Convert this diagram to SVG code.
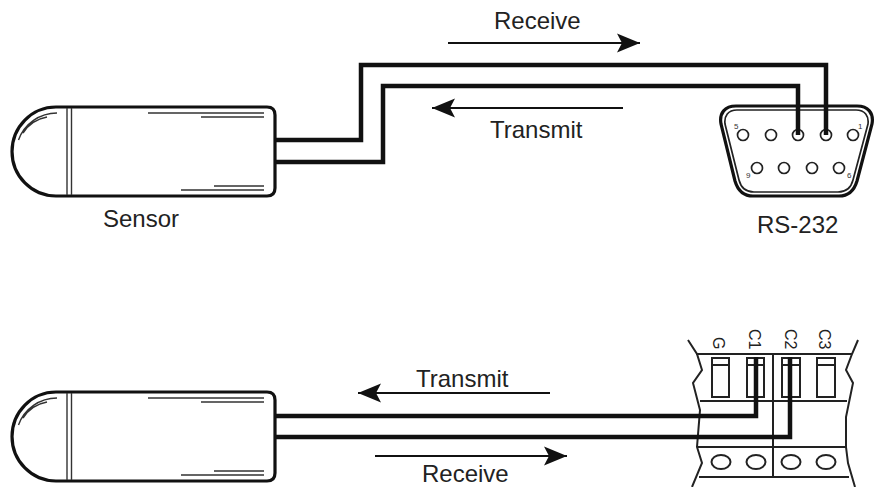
<svg xmlns="http://www.w3.org/2000/svg" width="874" height="487" viewBox="0 0 874 487">
<defs>
<marker id="ah" markerUnits="userSpaceOnUse" markerWidth="24" markerHeight="20" refX="23" refY="10" orient="auto"><path d="M0 0.5L23 10L0 19.500L5 10Z" fill="#111"/></marker>
<g id="sensor">
<path class="o" d="M56 107H267Q275 107 275 115V188Q275 196 267 196H56A44 44.500 0 0 1 56 107Z"/>
<path class="t" d="M67 108V195M71.500 108V195M148 113H264M201 117H264M214 186H264M181 190H264"/>
<path class="t" d="M57 113A41 41 0 0 0 18.500 140M47 117A36 36 0 0 0 23 133"/>
</g>
</defs>
<style>
text{font-family:"Liberation Sans",Arial,sans-serif;fill:#222}
.o{fill:none;stroke:#111;stroke-width:3.200}
.t{fill:none;stroke:#333;stroke-width:1.400}
.w{fill:none;stroke:#111;stroke-width:4.500}
.l{fill:none;stroke:#222;stroke-width:1.700}
.m{fill:none;stroke:#222;stroke-width:2}
.a{fill:none;stroke:#111;stroke-width:2;marker-end:url(#ah)}
.p{font-size:8px;fill:#333}
.lab{font-size:24px}
.c{font-size:16px}
</style>
<g id="sensor-top"><use href="#sensor"/></g>
<g id="sensor-bottom"><use href="#sensor" y="285"/></g>
<g id="rs232">
<path class="o" d="M736 106H857C868 106 874 113 872 124L857 181C854 191 848 196 839 196H753C744 196 738 191 735 181L721 124C719 113 725 106 736 106Z"/>
<path class="l" d="M737 110H856C865 110 869 116 868 124L853 180C851 188 846 192 838 192H754C746 192 741 188 739 180L725 124C724 116 728 110 737 110Z"/>
<g class="l"><circle cx="743" cy="135" r="5.500"/><circle cx="771" cy="135" r="5.500"/><circle cx="798" cy="135" r="5.500"/><circle cx="826" cy="135" r="5.500"/><circle cx="853" cy="135" r="5.500"/><circle cx="757" cy="168" r="5.500"/><circle cx="784" cy="168" r="5.500"/><circle cx="812" cy="168" r="5.500"/><circle cx="839" cy="168" r="5.500"/></g>
<text class="p" x="734" y="129">5</text><text class="p" x="858" y="129">1</text><text class="p" x="746" y="178">9</text><text class="p" x="847" y="178">6</text>
</g>
<g id="terminal">
<path class="m" d="M688 340L697 354L702 370L693 383L700 410L697 447L702 463L692 487M858 340L852 354L846 370L853 383L846 417V447L848 463L855 487"/>
<path class="m" d="M696 354H852M700 401H847M697 447H846M699 477H849M773 354V477"/>
<path class="m" d="M712 358H729V397H712ZM712 365H729M747 358H764V397H747ZM747 365H764M782 358H800V397H782ZM782 365H800M817 358H835V397H817ZM817 365H835"/>
<g class="m"><ellipse cx="721" cy="462" rx="9.500" ry="7"/><ellipse cx="756" cy="462" rx="9.500" ry="7"/><ellipse cx="791" cy="462" rx="9.500" ry="7"/><ellipse cx="826" cy="462" rx="9.500" ry="7"/></g>
<text class="c" transform="translate(713 337) rotate(90)">G</text><text class="c" transform="translate(749 329) rotate(90)">C1</text><text class="c" transform="translate(785 329) rotate(90)">C2</text><text class="c" transform="translate(819 329) rotate(90)">C3</text>
</g>
<g id="connectors">
<path class="w" d="M275 140H361V65H826V135"/>
<path class="w" d="M275 162H383V86H798V135"/>
<path class="w" d="M275 416H756V357"/>
<path class="w" d="M275 437H790V357"/>
<path class="a" d="M448 43H640"/>
<path class="a" d="M623 108H432"/>
<path class="a" d="M550 393H358"/>
<path class="a" d="M375 456H567"/>
</g>
<g id="labels">
<text class="lab" x="494" y="29">Receive</text>
<text class="lab" x="490" y="138">Transmit</text>
<text class="lab" x="103" y="227">Sensor</text>
<text class="lab" x="757" y="233">RS-232</text>
<text class="lab" x="416" y="387">Transmit</text>
<text class="lab" x="422" y="482">Receive</text>
</g>
</svg>
